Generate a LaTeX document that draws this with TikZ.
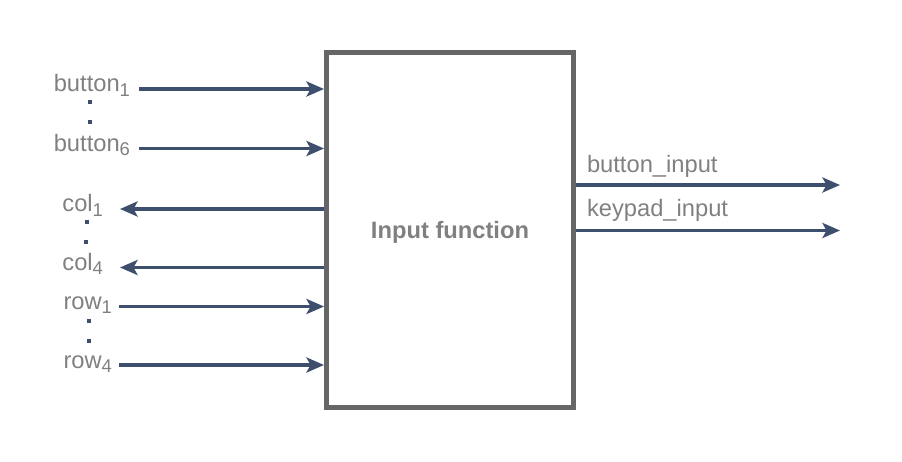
\documentclass[tikz,border=0pt]{standalone}
\usepackage{fontspec}
\setmainfont{Liberation Sans}
\usetikzlibrary{arrows.meta,positioning}
\definecolor{sigblue}{HTML}{3D4F6D}
\definecolor{boxgray}{HTML}{666666}
\definecolor{txtgray}{HTML}{808080}
\newcommand{\idx}[1]{\raisebox{-0.09cm}{\fontsize{10.5}{12}\selectfont#1}}
\tikzset{
  sig/.style = {line width=0.07cm, draw=sigblue,
    -{Stealth[length=0.35cm, width=0.3cm, inset=0.08cm]}},
  lbl/.style = {text=txtgray, font=\fontsize{13.5}{15}\selectfont,
    inner sep=0pt, outer sep=0pt, text height=0.32cm, text depth=0.2cm},
  fnbox/.style = {draw=boxgray, line width=0.1cm, minimum width=4.94cm,
    minimum height=7.1cm, text=txtgray, text height=0.33cm, text depth=0cm,
    font=\fontsize{13.5}{15}\selectfont\bfseries}
}
\begin{document}
\begin{tikzpicture}[x=0.02cm, y=-0.02cm]
  \useasboundingbox (0,0) rectangle (902,462);
  \node[fnbox] (fn) at (450,230) {Input function};
  % inputs
  \coordinate (b1) at (139,89);
  \coordinate (b6) at (139,148.5);
  \coordinate (r1) at (119,306.5);
  \coordinate (r4) at (119,365);
  \foreach \c in {b1,b6,r1,r4}
    \draw[sig] (\c) -- (\c -| fn.west);
  \node[lbl, left=0.18cm of b1] (lb1) {button\idx{1}};
  \node[lbl, left=0.18cm of b6] (lb6) {button\idx{6}};
  \node[lbl, left=0.14cm of r1] (lr1) {row\idx{1}};
  \node[lbl, left=0.14cm of r4] (lr4) {row\idx{4}};
  % outputs to keypad
  \coordinate (c1) at (120,209);
  \coordinate (c4) at (120,267.5);
  \foreach \c in {c1,c4}
    \draw[sig] (\c -| fn.west) -- (\c);
  \node[lbl, left=0.34cm of c1] (lc1) {col\idx{1}};
  \node[lbl, left=0.34cm of c4] (lc4) {col\idx{4}};
  % outputs
  \coordinate (bi) at (840,185);
  \coordinate (ki) at (840,230.5);
  \draw[sig] (bi -| fn.east) -- (bi);
  \draw[sig] (ki -| fn.east) -- (ki);
  \node[lbl, anchor=base west] (lbi) at (587,173) {button\_input};
  \node[lbl, anchor=base west] (lki) at (587,217) {keypad\_input};
  % dots
  \foreach \x/\y in {90/102, 90/122, 86.5/222, 85.5/242, 89/321, 89/341}
    \fill[sigblue] (\x-2,\y-2) rectangle (\x+2,\y+2);
\end{tikzpicture}
\end{document}
